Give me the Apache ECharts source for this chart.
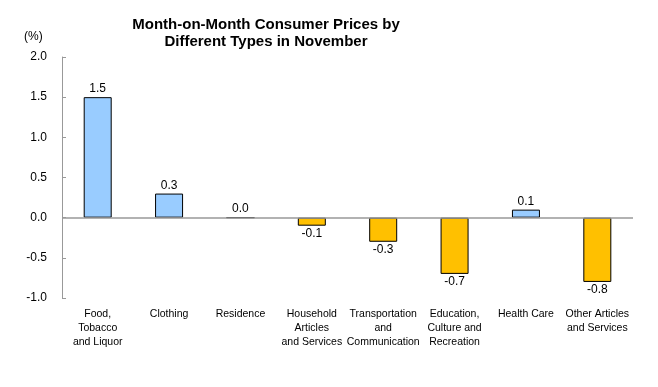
<!DOCTYPE html>
<html><head><meta charset="utf-8">
<script src="https://cdn.jsdelivr.net/npm/echarts@6/dist/echarts.min.js"></script>
<style>html,body{margin:0;padding:0;background:#fff}#c{width:658px;height:387px}</style>
</head><body><div id="c"></div>
<script>
var categories = ["Food,\nTobacco\nand Liquor","Clothing","Residence","Household\nArticles\nand Services","Transportation\nand\nCommunication","Education,\nCulture and\nRecreation","Health Care","Other Articles\nand Services"];
var values = [1.5, 0.3, 0.0, -0.1, -0.3, -0.7, 0.1, -0.8];
var yTicks = [-1.0, -0.5, 0.0, 0.5, 1.0, 1.5, 2.0];
var titleText = "Month-on-Month Consumer Prices by\nDifferent Types in November";

var chart = echarts.init(document.getElementById('c'), null, {renderer:'canvas'});
var font = 'Arial, "Liberation Sans", sans-serif';
chart.setOption({
  animation:false,
  title:[{text:titleText, left:261, textAlign:'center', top:11,
    textStyle:{fontFamily:font, fontSize:15, fontWeight:'bold', color:'#000', lineHeight:17}},
    {text:'(%)', left:19, top:26, textStyle:{fontFamily:font, fontSize:12, fontWeight:'normal', color:'#000'}}],
  grid:{left:62, right:25, top:57, bottom:89},
  xAxis:{type:'category', data:categories,
    axisLine:{show:false, onZero:false}, axisTick:{show:false},
    axisLabel:{interval:0, margin:9, fontFamily:font, fontSize:10.5, lineHeight:14, color:'#000'}},
  yAxis:{type:'value', min:yTicks[0], max:yTicks[yTicks.length-1], interval:0.5,
    axisLine:{show:true, lineStyle:{color:'#999'}},
    axisTick:{show:true, inside:true, length:4, lineStyle:{color:'#999'}},
    splitLine:{show:false},
    axisLabel:{formatter:function(v){return v.toFixed(1);}, fontFamily:font, fontSize:12, color:'#000', margin:15}},
  series:[{type:'bar', barWidth:28,
    data:values.map(function(v){return {value:v, itemStyle:{color: v>=0 ? '#99CCFF' : '#FFC000'},
      label:{position: v>=0 ? 'top' : 'bottom'}};}),
    itemStyle:{borderColor:'#000', borderWidth:1},
    label:{show:true, formatter:function(p){return p.value.toFixed(1);}, fontFamily:font, fontSize:12, color:'#000', distance:2},
    markLine:{silent:true, symbol:'none', label:{show:false}, lineStyle:{color:'#999', type:'solid', width:1.5},
      data:[{yAxis:0}]}
  }]
});
</script></body></html>
